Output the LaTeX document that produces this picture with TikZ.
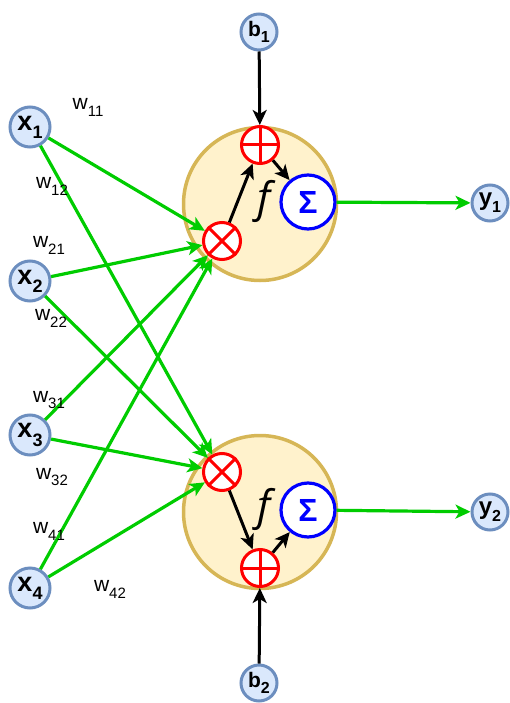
\documentclass[tikz,border=0pt]{standalone}
\usepackage{fontspec}
\setmainfont{Liberation Sans}
\newfontfamily\ffont{Open Sans}
\usetikzlibrary{arrows.meta}
\definecolor{inpfill}{HTML}{DAE8FC}
\definecolor{inpdraw}{HTML}{6C8EBF}
\definecolor{neufill}{HTML}{FFF2CC}
\definecolor{neudraw}{HTML}{D6B656}
\definecolor{lgreen}{HTML}{00CC00}
\newcommand{\iotext}[4]{{\fontsize{#2}{#2}\selectfont\bfseries #1\raisebox{-0.3em}{\fontsize{#3}{#3}\selectfont #4}}}
\newcommand{\wlab}[1]{{\fontsize{21}{21}\selectfont w\raisebox{-0.33em}{\fontsize{15}{15}\selectfont #1}}}
\begin{document}
\begin{tikzpicture}[x=1pt,y=-1pt,
  io/.style={circle, draw=inpdraw, fill=inpfill, line width=3pt, minimum size=40pt, inner sep=0pt},
  bio/.style={io, minimum size=36pt},
  neuron/.style={circle, draw=neudraw, fill=neufill, line width=3.5pt, minimum size=153pt, inner sep=0pt},
  op/.style={circle, draw=red, fill=white, line width=3pt, minimum size=37pt, inner sep=0pt},
  sig/.style={circle, draw=blue, fill=white, line width=3.2pt, minimum size=54pt, inner sep=0pt, text=blue, font=\fontsize{32}{32}\selectfont\bfseries},
  garrow/.style={draw=lgreen, line width=3.2pt, -{Stealth[length=15pt,width=14pt,inset=4pt]}},
  barrow/.style={draw=black, line width=3pt, -{Stealth[length=15pt,width=14pt,inset=4pt]}},
  oplin/.style={draw=red, line width=3pt},
  wl/.style={inner sep=0pt, anchor=center},
  ftext/.style={inner sep=0pt, font=\ffont\itshape\fontsize{42}{42}\selectfont}
]
\useasboundingbox (0,0) rectangle (510,703);
% neurons
\node[neuron] (n1) at (260,204) {};
\node[neuron] (n2) at (260,512) {};
\node[ftext] (f1) at (264,201) {f};
\node[ftext] (f2) at (264,509) {f};
% inputs
\node[io] (x1) at (30,127) {\iotext{x}{27}{18}{1}};
\node[io] (x2) at (30,281) {\iotext{x}{27}{18}{2}};
\node[io] (x3) at (30,435) {\iotext{x}{27}{18}{3}};
\node[io] (x4) at (30,588) {\iotext{x}{27}{18}{4}};
\node[bio] (b1) at (259,32) {\iotext{b}{21}{16}{1}};
\node[bio] (b2) at (259,683) {\iotext{b}{21}{16}{2}};
\node[bio] (y1) at (490,203) {\iotext{y}{24}{16}{1}};
\node[bio] (y2) at (490,512) {\iotext{y}{24}{16}{2}};
% operators
\node[op] (m1) at (222,241) {};
\node[op] (p1) at (260,145) {};
\node[sig] (s1) at (308,202) {Σ};
\node[op] (m2) at (222,472) {};
\node[op] (p2) at (260,568) {};
\node[sig] (s2) at (308,510) {Σ};
\foreach \m in {m1,m2}{
  \draw[oplin] (\m.north east) -- (\m.south west);
  \draw[oplin] (\m.north west) -- (\m.south east);
}
\foreach \p in {p1,p2}{
  \draw[oplin] (\p.north) -- (\p.south);
  \draw[oplin] (\p.west) -- (\p.east);
}
% green connections
\foreach \x in {x1,x2,x3,x4}{
  \draw[garrow] (\x) -- (m1);
  \draw[garrow] (\x) -- (m2);
}
\draw[garrow] (s1) -- (y1);
\draw[garrow] (s2) -- (y2);
% black connections
\draw[barrow] (b1) -- (p1);
\draw[barrow] (m1) -- (p1);
\draw[barrow] (p1) -- (s1);
\draw[barrow] (b2) -- (p2);
\draw[barrow] (m2) -- (p2);
\draw[barrow] (p2) -- (s2);
% weight labels
\node[wl] (w11) at (88,107) {\wlab{11}};
\node[wl] (w12) at (52,186) {\wlab{12}};
\node[wl] (w21) at (49,245) {\wlab{21}};
\node[wl] (w22) at (51,318) {\wlab{22}};
\node[wl] (w31) at (49,400) {\wlab{31}};
\node[wl] (w32) at (52,477) {\wlab{32}};
\node[wl] (w41) at (49,531) {\wlab{41}};
\node[wl] (w42) at (110,589) {\wlab{42}};
\end{tikzpicture}
\end{document}
